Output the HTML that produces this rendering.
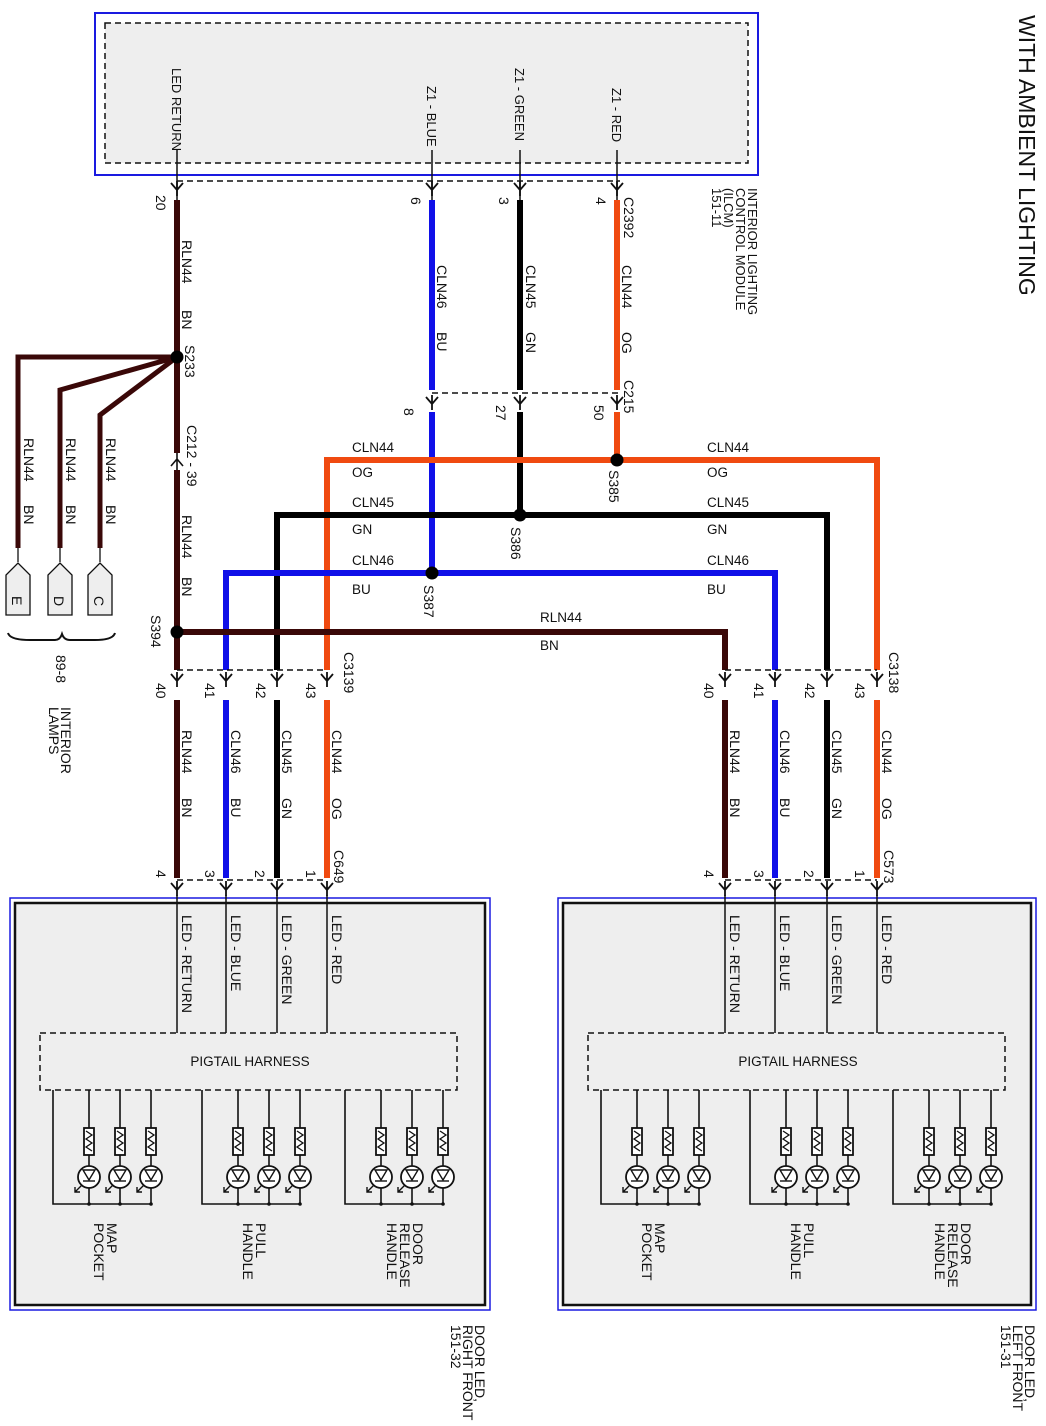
<!DOCTYPE html>
<html><head><meta charset="utf-8"><style>
html,body{margin:0;padding:0;background:#fff;}
svg{display:block;font-family:"Liberation Sans",sans-serif;}
.t{font-size:14px;fill:#111;}
.h{font-size:13.5px;fill:#111;}
</style></head><body>
<svg width="1046" height="1426" viewBox="0 0 1046 1426" xmlns="http://www.w3.org/2000/svg">
<defs>
<g id="arr"><path d="M-6,-7 L0,0 L6,-7 M0,-9 L0,6" stroke="#111" stroke-width="1.8" fill="none"/></g>
<g id="led">
<line x1="0" y1="1090" x2="0" y2="1204" stroke="#111" stroke-width="1.6"/>
<rect x="-5" y="1128" width="10" height="27" fill="#fff" stroke="#111" stroke-width="1.8"/>
<path d="M-3,1131 L3,1135 L-3,1139 L3,1143 L-3,1147 L3,1151" stroke="#111" fill="none" stroke-width="1.3"/>
<circle cx="0" cy="1177" r="11" fill="#fff" stroke="#111" stroke-width="1.8"/>
<path d="M-6,1170 L6,1170 L0,1180 Z" fill="none" stroke="#111" stroke-width="1.4"/>
<line x1="-6" y1="1181" x2="6" y2="1181" stroke="#111" stroke-width="1.4"/>
<path d="M-7,1185 L-14,1192 M-14,1187 L-14,1192 L-9,1192" stroke="#111" fill="none" stroke-width="1.4"/>
<circle cx="0" cy="1204" r="1.8" fill="#111"/>
</g>
<g id="grp">
<path d="M-36,1090 L-36,1204 L62,1204" stroke="#111" fill="none" stroke-width="1.6"/>
<use href="#led" x="0"/><use href="#led" x="31"/><use href="#led" x="62"/>
</g>
</defs>

<text transform="translate(1019,15) rotate(90)" style="font-size:23px" fill="#111">WITH AMBIENT LIGHTING</text>

<rect x="95" y="13" width="663" height="162" fill="#fff" stroke="#1a1ae0" stroke-width="2"/>
<rect x="105" y="23" width="643" height="140" fill="#eeeeee" stroke="#111" stroke-width="1.5" stroke-dasharray="6 4"/>
<g stroke-width="1.5" stroke="#111">
<line x1="177" y1="150" x2="177" y2="200"/><line x1="432" y1="150" x2="432" y2="200"/>
<line x1="520" y1="150" x2="520" y2="200"/><line x1="617" y1="150" x2="617" y2="200"/>
</g>
<line x1="177" y1="181" x2="620" y2="181" stroke="#111" stroke-width="1.5" stroke-dasharray="6 4"/>
<use href="#arr" x="177" y="190"/><use href="#arr" x="432" y="190"/><use href="#arr" x="520" y="190"/><use href="#arr" x="617" y="190"/>
<g class="t" style="font-size:13px">
<text transform="translate(172,68) rotate(90)">LED RETURN</text>
<text transform="translate(427,86) rotate(90)">Z1 - BLUE</text>
<text transform="translate(515,68) rotate(90)">Z1 - GREEN</text>
<text transform="translate(612,88) rotate(90)">Z1 - RED</text>
<text transform="translate(748,188) rotate(90)">INTERIOR LIGHTING</text>
<text transform="translate(736,188) rotate(90)">CONTROL MODULE</text>
<text transform="translate(724,188) rotate(90)">(ILCM)</text>
<text transform="translate(712,188) rotate(90)">151-11</text>
</g>

<g fill="none" stroke-width="6">
<line x1="177" y1="200" x2="177" y2="453" stroke="#3a0808"/>
<line x1="177" y1="470" x2="177" y2="670" stroke="#3a0808"/>
<path d="M177,357 L18,357 L18,548" stroke="#3a0808" stroke-width="5"/>
<path d="M177,357 L60,390 L60,548" stroke="#3a0808" stroke-width="5"/>
<path d="M177,357 L100,415 L100,548" stroke="#3a0808" stroke-width="5"/>
<line x1="432" y1="200" x2="432" y2="390" stroke="#1010e8"/>
<line x1="520" y1="200" x2="520" y2="390" stroke="#000"/>
<line x1="617" y1="200" x2="617" y2="390" stroke="#f04a10"/>
<line x1="432" y1="412" x2="432" y2="573" stroke="#1010e8"/>
<line x1="520" y1="412" x2="520" y2="515" stroke="#000"/>
<line x1="617" y1="412" x2="617" y2="460" stroke="#f04a10"/>
<path d="M327,670 L327,460 L877,460 L877,670" stroke="#f04a10"/>
<path d="M277,670 L277,515 L827,515 L827,670" stroke="#000"/>
<path d="M226,670 L226,573 L775,573 L775,670" stroke="#1010e8"/>
<path d="M177,632 L725,632 L725,670" stroke="#3a0808"/>
</g>
<line x1="432" y1="393" x2="620" y2="393" stroke="#111" stroke-width="1.5" stroke-dasharray="6 4"/>
<use href="#arr" x="432" y="404"/><use href="#arr" x="520" y="404"/><use href="#arr" x="617" y="404"/>
<path d="M171,466 L177,459 L183,466 M177,453 L177,470" stroke="#111" stroke-width="1.6" fill="none"/>
<g fill="#000"><circle cx="177" cy="357" r="6.5"/><circle cx="177" cy="632" r="6.5"/><circle cx="617" cy="460" r="6.5"/><circle cx="520" cy="515" r="6.5"/><circle cx="432" cy="573" r="6.5"/></g>

<g class="t">
<text transform="translate(156,195) rotate(90)">20</text>
<text transform="translate(411,197) rotate(90)">6</text>
<text transform="translate(499,197) rotate(90)">3</text>
<text transform="translate(596,197) rotate(90)">4</text>
<text transform="translate(624,197) rotate(90)">C2392</text>
<text transform="translate(182,240) rotate(90)">RLN44</text>
<text transform="translate(182,310) rotate(90)">BN</text>
<text transform="translate(185,345) rotate(90)">S233</text>
<text transform="translate(437,265) rotate(90)">CLN46</text>
<text transform="translate(437,332) rotate(90)">BU</text>
<text transform="translate(526,265) rotate(90)">CLN45</text>
<text transform="translate(526,332) rotate(90)">GN</text>
<text transform="translate(622,265) rotate(90)">CLN44</text>
<text transform="translate(622,332) rotate(90)">OG</text>
<text transform="translate(624,380) rotate(90)">C215</text>
<text transform="translate(404,408) rotate(90)">8</text>
<text transform="translate(496,405) rotate(90)">27</text>
<text transform="translate(594,405) rotate(90)">50</text>
<text transform="translate(187,425) rotate(90)">C212 - 39</text>
<text transform="translate(182,515) rotate(90)">RLN44</text>
<text transform="translate(182,577) rotate(90)">BN</text>
<text transform="translate(151,615) rotate(90)">S394</text>
<text transform="translate(609,470) rotate(90)">S385</text>
<text transform="translate(511,527) rotate(90)">S386</text>
<text transform="translate(424,585) rotate(90)">S387</text>
<text transform="translate(24,438) rotate(90)">RLN44</text>
<text transform="translate(24,505) rotate(90)">BN</text>
<text transform="translate(66,438) rotate(90)">RLN44</text>
<text transform="translate(66,505) rotate(90)">BN</text>
<text transform="translate(106,438) rotate(90)">RLN44</text>
<text transform="translate(106,505) rotate(90)">BN</text>
</g>
<g class="h">
<text x="352" y="452">CLN44</text><text x="352" y="477">OG</text>
<text x="707" y="452">CLN44</text><text x="707" y="477">OG</text>
<text x="352" y="507">CLN45</text><text x="352" y="534">GN</text>
<text x="707" y="507">CLN45</text><text x="707" y="534">GN</text>
<text x="352" y="565">CLN46</text><text x="352" y="594">BU</text>
<text x="707" y="565">CLN46</text><text x="707" y="594">BU</text>
<text x="540" y="622">RLN44</text><text x="540" y="650">BN</text>
</g>

<g fill="#eeeeee" stroke="#111" stroke-width="1.3">
<line x1="18" y1="548" x2="18" y2="562"/><line x1="60" y1="548" x2="60" y2="562"/><line x1="100" y1="548" x2="100" y2="562"/>
<path d="M6,615 L6,575 L18,563 L30,575 L30,615 Z"/>
<path d="M48,615 L48,575 L60,563 L72,575 L72,615 Z"/>
<path d="M88,615 L88,575 L100,563 L112,575 L112,615 Z"/>
</g>
<g class="t"><text transform="translate(12,596) rotate(90)">E</text><text transform="translate(54,596) rotate(90)">D</text><text transform="translate(94,596) rotate(90)">C</text></g>
<path d="M8,633 Q10,640 30,640 L55,640 Q60,640 62,634 Q64,640 70,640 L95,640 Q113,640 115,633" stroke="#111" fill="none" stroke-width="2"/>
<g class="t"><text transform="translate(56,655) rotate(90)">89-8</text>
<text transform="translate(61,707) rotate(90)">INTERIOR</text><text transform="translate(49,707) rotate(90)">LAMPS</text></g>

<line x1="177" y1="670" x2="327" y2="670" stroke="#111" stroke-width="1.5" stroke-dasharray="6 4"/>
<line x1="725" y1="670" x2="877" y2="670" stroke="#111" stroke-width="1.5" stroke-dasharray="6 4"/>
<g>
<use href="#arr" x="177" y="681"/><use href="#arr" x="226" y="681"/><use href="#arr" x="277" y="681"/><use href="#arr" x="327" y="681"/>
<use href="#arr" x="725" y="681"/><use href="#arr" x="775" y="681"/><use href="#arr" x="827" y="681"/><use href="#arr" x="877" y="681"/>
</g>
<g stroke-width="6">
<line x1="177" y1="700" x2="177" y2="878" stroke="#3a0808"/>
<line x1="226" y1="700" x2="226" y2="878" stroke="#1010e8"/>
<line x1="277" y1="700" x2="277" y2="878" stroke="#000"/>
<line x1="327" y1="700" x2="327" y2="878" stroke="#f04a10"/>
<line x1="725" y1="700" x2="725" y2="878" stroke="#3a0808"/>
<line x1="775" y1="700" x2="775" y2="878" stroke="#1010e8"/>
<line x1="827" y1="700" x2="827" y2="878" stroke="#000"/>
<line x1="877" y1="700" x2="877" y2="878" stroke="#f04a10"/>
</g>
<line x1="177" y1="880" x2="327" y2="880" stroke="#111" stroke-width="1.5" stroke-dasharray="6 4"/>
<line x1="725" y1="880" x2="877" y2="880" stroke="#111" stroke-width="1.5" stroke-dasharray="6 4"/>
<g>
<use href="#arr" x="177" y="890"/><use href="#arr" x="226" y="890"/><use href="#arr" x="277" y="890"/><use href="#arr" x="327" y="890"/>
<use href="#arr" x="725" y="890"/><use href="#arr" x="775" y="890"/><use href="#arr" x="827" y="890"/><use href="#arr" x="877" y="890"/>
</g>
<g class="t">
<text transform="translate(344,652) rotate(90)">C3139</text>
<text transform="translate(889,652) rotate(90)">C3138</text>
<text transform="translate(156,683) rotate(90)">40</text><text transform="translate(205,683) rotate(90)">41</text>
<text transform="translate(256,683) rotate(90)">42</text><text transform="translate(306,683) rotate(90)">43</text>
<text transform="translate(704,683) rotate(90)">40</text><text transform="translate(754,683) rotate(90)">41</text>
<text transform="translate(805,683) rotate(90)">42</text><text transform="translate(855,683) rotate(90)">43</text>
<text transform="translate(182,730) rotate(90)">RLN44</text><text transform="translate(182,798) rotate(90)">BN</text>
<text transform="translate(231,730) rotate(90)">CLN46</text><text transform="translate(231,798) rotate(90)">BU</text>
<text transform="translate(282,730) rotate(90)">CLN45</text><text transform="translate(282,798) rotate(90)">GN</text>
<text transform="translate(332,730) rotate(90)">CLN44</text><text transform="translate(332,798) rotate(90)">OG</text>
<text transform="translate(730,730) rotate(90)">RLN44</text><text transform="translate(730,798) rotate(90)">BN</text>
<text transform="translate(780,730) rotate(90)">CLN46</text><text transform="translate(780,798) rotate(90)">BU</text>
<text transform="translate(832,730) rotate(90)">CLN45</text><text transform="translate(832,798) rotate(90)">GN</text>
<text transform="translate(882,730) rotate(90)">CLN44</text><text transform="translate(882,798) rotate(90)">OG</text>
<text transform="translate(334,850) rotate(90)">C649</text>
<text transform="translate(884,850) rotate(90)">C573</text>
<text transform="translate(156,870) rotate(90)">4</text><text transform="translate(205,870) rotate(90)">3</text>
<text transform="translate(255,870) rotate(90)">2</text><text transform="translate(306,870) rotate(90)">1</text>
<text transform="translate(704,870) rotate(90)">4</text><text transform="translate(754,870) rotate(90)">3</text>
<text transform="translate(804,870) rotate(90)">2</text><text transform="translate(855,870) rotate(90)">1</text>
</g>

<g>
<rect x="10" y="898" width="480" height="412" fill="#fff" stroke="#1a1ae0" stroke-width="1.5"/>
<rect x="15" y="903" width="470" height="402" fill="#eeeeee" stroke="#111" stroke-width="2.5"/>
<rect x="558" y="898" width="478" height="412" fill="#fff" stroke="#1a1ae0" stroke-width="1.5"/>
<rect x="563" y="903" width="468" height="402" fill="#eeeeee" stroke="#111" stroke-width="2.5"/>
</g>
<g stroke="#111" stroke-width="1.5">
<line x1="177" y1="895" x2="177" y2="1033"/><line x1="226" y1="895" x2="226" y2="1033"/>
<line x1="277" y1="895" x2="277" y2="1033"/><line x1="327" y1="895" x2="327" y2="1033"/>
<line x1="725" y1="895" x2="725" y2="1033"/><line x1="775" y1="895" x2="775" y2="1033"/>
<line x1="827" y1="895" x2="827" y2="1033"/><line x1="877" y1="895" x2="877" y2="1033"/>
</g>
<rect x="40" y="1033" width="417" height="57" fill="none" stroke="#111" stroke-width="1.5" stroke-dasharray="6 4"/>
<rect x="588" y="1033" width="417" height="57" fill="none" stroke="#111" stroke-width="1.5" stroke-dasharray="6 4"/>
<text x="250" y="1066" text-anchor="middle" class="h">PIGTAIL HARNESS</text>
<text x="798" y="1066" text-anchor="middle" class="h">PIGTAIL HARNESS</text>
<use href="#grp" x="89"/><use href="#grp" x="238"/><use href="#grp" x="381"/>
<use href="#grp" x="637"/><use href="#grp" x="786"/><use href="#grp" x="929"/>
<g class="t">
<text transform="translate(182,915) rotate(90)">LED - RETURN</text>
<text transform="translate(231,915) rotate(90)">LED - BLUE</text>
<text transform="translate(282,915) rotate(90)">LED - GREEN</text>
<text transform="translate(332,915) rotate(90)">LED - RED</text>
<text transform="translate(730,915) rotate(90)">LED - RETURN</text>
<text transform="translate(780,915) rotate(90)">LED - BLUE</text>
<text transform="translate(832,915) rotate(90)">LED - GREEN</text>
<text transform="translate(882,915) rotate(90)">LED - RED</text>
<text transform="translate(107,1223) rotate(90)">MAP</text><text transform="translate(94,1223) rotate(90)">POCKET</text>
<text transform="translate(256,1223) rotate(90)">PULL</text><text transform="translate(243,1223) rotate(90)">HANDLE</text>
<text transform="translate(413,1223) rotate(90)">DOOR</text><text transform="translate(400,1223) rotate(90)">RELEASE</text><text transform="translate(387,1223) rotate(90)">HANDLE</text>
<text transform="translate(655,1223) rotate(90)">MAP</text><text transform="translate(642,1223) rotate(90)">POCKET</text>
<text transform="translate(804,1223) rotate(90)">PULL</text><text transform="translate(791,1223) rotate(90)">HANDLE</text>
<text transform="translate(961,1223) rotate(90)">DOOR</text><text transform="translate(948,1223) rotate(90)">RELEASE</text><text transform="translate(935,1223) rotate(90)">HANDLE</text>
<text transform="translate(475,1325) rotate(90)">DOOR LED,</text><text transform="translate(463,1325) rotate(90)">RIGHT FRONT</text><text transform="translate(451,1325) rotate(90)">151-32</text>
<text transform="translate(1025,1325) rotate(90)">DOOR LED,</text><text transform="translate(1013,1325) rotate(90)">LEFT FRONT</text><text transform="translate(1001,1325) rotate(90)">151-31</text>
</g>
</svg>
</body></html>
